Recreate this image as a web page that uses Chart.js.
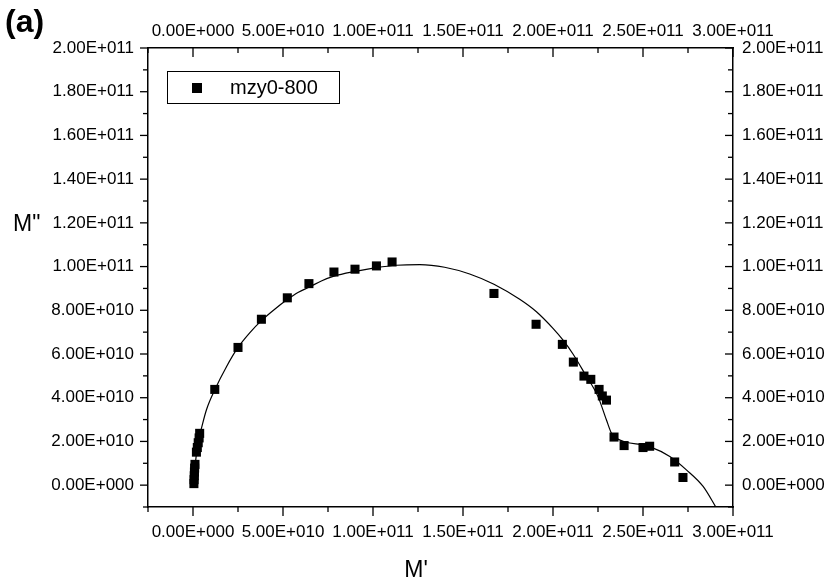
<!DOCTYPE html>
<html>
<head>
<meta charset="utf-8">
<script src="https://cdn.jsdelivr.net/npm/chart.js@4.4.1/dist/chart.umd.min.js"></script>
<style>
  html, body { margin: 0; padding: 0; background: #fff; }
  #wrap { position: relative; width: 829px; height: 588px; }
</style>
</head>
<body>
<div id="wrap"><canvas id="modulus"></canvas></div>
<script>
// --- DATA ---
// measured points (M', M'')
const mPrime = [
  5e8, 6e8, 7e8, 8e8, 9e8, 1.1e9,
  1.9e9, 2.4e9, 2.9e9, 3.4e9, 3.7e9,
  1.21e10, 2.5e10, 3.8e10, 5.24e10, 6.44e10, 7.83e10, 9.0e10, 1.019e11, 1.106e11,
  1.672e11, 1.906e11, 2.052e11, 2.113e11, 2.172e11, 2.21e11, 2.256e11, 2.274e11, 2.297e11,
  2.339e11, 2.395e11, 2.5e11, 2.537e11, 2.676e11, 2.722e11
];
const mDoublePrime = [
  7e8, 2.5e9, 4.3e9, 6.0e9, 7.8e9, 9.5e9,
  1.51e10, 1.72e10, 1.94e10, 2.16e10, 2.37e10,
  4.38e10, 6.30e10, 7.59e10, 8.57e10, 9.22e10, 9.75e10, 9.88e10, 1.003e11, 1.021e11,
  8.77e10, 7.36e10, 6.44e10, 5.63e10, 4.99e10, 4.84e10, 4.38e10, 4.08e10, 3.89e10,
  2.2e10, 1.81e10, 1.72e10, 1.78e10, 1.06e10, 3.5e9
];

// fitted curve
const fitPrime = [
  1e8, 9.4e8, 2.06e9, 3.44e9, 4.67e9, 7.44e9, 1.22e10, 1.86e10, 2.5e10, 3.15e10, 3.83e10,
  4.54e10, 5.24e10, 5.83e10, 6.48e10, 7.13e10, 7.83e10, 9.02e10, 1.019e11, 1.13e11,
  1.26e11, 1.398e11, 1.537e11, 1.672e11, 1.815e11, 1.908e11, 2.0e11, 2.056e11, 2.111e11,
  2.176e11, 2.25e11, 2.297e11, 2.325e11, 2.352e11, 2.537e11, 2.649e11, 2.741e11,
  2.834e11, 2.908e11
];
const fitDoublePrime = [
  0, 6.99e9, 1.52e10, 2.2e10, 2.6e10, 3.44e10, 4.38e10, 5.42e10, 6.3e10, 6.97e10, 7.55e10,
  8.05e10, 8.49e10, 8.81e10, 9.07e10, 9.34e10, 9.56e10, 9.78e10, 9.95e10, 1.006e11,
  1.009e11, 9.97e10, 9.66e10, 9.19e10, 8.5e10, 7.93e10, 7.17e10, 6.63e10, 6.0e10,
  5.11e10, 4.05e10, 2.98e10, 2.37e10, 2.15e10, 1.76e10, 1.31e10, 7.0e9,
  -6e8, -1.05e10
];

// axes
const xMajor = [0, 5e10, 1e11, 1.5e11, 2e11, 2.5e11, 3e11];
const xMinor = [-2.5e10, 2.5e10, 7.5e10, 1.25e11, 1.75e11, 2.25e11, 2.75e11];
const yMajor = [0, 2e10, 4e10, 6e10, 8e10, 1e11, 1.2e11, 1.4e11, 1.6e11, 1.8e11, 2e11];
const yMinor = [-1e10, 1e10, 3e10, 5e10, 7e10, 9e10, 1.1e11, 1.3e11, 1.5e11, 1.7e11, 1.9e11];

const seriesName = 'mzy0-800';
const FONT = '"Liberation Sans", Arial, sans-serif';

// 5.00E+010 style labels
function fmtE(v) {
  const [mant, exp] = v.toExponential(2).split('e');
  return mant + 'E' + exp[0] + exp.slice(1).padStart(3, '0');
}

// tick marks: left/bottom point out, top/right point in
const frameTicks = {
  id: 'frameTicks',
  afterDraw(chart) {
    const { ctx, chartArea: a, scales } = chart;
    ctx.save();
    ctx.strokeStyle = '#000';
    ctx.lineWidth = 1.3;
    const mark = (scale, values, len) => {
      values.forEach(v => {
        const p = scale.getPixelForValue(v);
        ctx.beginPath();
        if (scale.id === 'y') { ctx.moveTo(a.left, p); ctx.lineTo(a.left - len, p); }
        if (scale.id === 'y2') { ctx.moveTo(a.right, p); ctx.lineTo(a.right - len, p); }
        if (scale.id === 'x') { ctx.moveTo(p, a.bottom); ctx.lineTo(p, a.bottom + len); }
        if (scale.id === 'x2') { ctx.moveTo(p, a.top); ctx.lineTo(p, a.top + len); }
        ctx.stroke();
      });
    };
    ['x', 'x2'].forEach(id => { mark(scales[id], xMajor, 9); mark(scales[id], xMinor, 5); });
    ['y', 'y2'].forEach(id => { mark(scales[id], yMajor, 8); mark(scales[id], yMinor, 5); });
    ctx.restore();
  }
};

// panel letter, axis names and the boxed legend
const annotations = {
  id: 'annotations',
  afterDraw(chart) {
    const { ctx } = chart;
    ctx.save();
    ctx.fillStyle = '#000';
    ctx.textBaseline = 'middle';

    ctx.font = 'bold 32px ' + FONT;
    ctx.textAlign = 'left';
    ctx.fillText('(a)', 5, 23);

    ctx.font = '23px ' + FONT;
    ctx.fillText('M"', 13, 225);
    ctx.textAlign = 'center';
    ctx.fillText("M'", 416, 571);

    // legend
    ctx.strokeStyle = '#000';
    ctx.lineWidth = 1;
    ctx.strokeRect(167.5, 71.5, 172, 32);
    ctx.fillRect(192, 83, 10, 10);
    ctx.font = '20px ' + FONT;
    ctx.textAlign = 'left';
    ctx.fillText(chart.data.datasets[0].label, 230, 88);
    ctx.restore();
  }
};

const tickFont = { family: FONT, size: 17 };

function axis(position, min, max, major, size, pad) {
  return {
    type: 'linear',
    position,
    min, max,
    grid: { display: false, drawTicks: false, tickLength: 0 },
    border: { display: true, color: '#000', width: 1.5 },
    ticks: { color: '#000', font: tickFont, padding: pad, maxRotation: 0, autoSkip: false, callback: v => fmtE(v) },
    afterBuildTicks: s => { s.ticks = major.map(v => ({ value: v })); },
    afterFit: s => {
      if (s.isHorizontal()) s.height = size; else s.width = size;
    }
  };
}

new Chart(document.getElementById('modulus'), {
  type: 'scatter',
  data: {
    datasets: [
      {
        label: seriesName,
        data: mPrime.map((x, i) => ({ x, y: mDoublePrime[i] })),
        pointStyle: 'rect',
        pointRadius: 6.4,
        pointBorderWidth: 0,
        backgroundColor: '#000',
        borderColor: '#000'
      },
      {
        label: 'fit',
        data: fitPrime.map((x, i) => ({ x, y: fitDoublePrime[i] })),
        showLine: true,
        pointRadius: 0,
        borderColor: '#000',
        borderWidth: 1.2,
        cubicInterpolationMode: 'monotone'
      }
    ]
  },
  options: {
    responsive: true,
    maintainAspectRatio: false,
    animation: false,
    layout: { padding: 0 },
    plugins: { legend: { display: false }, tooltip: { enabled: false } },
    scales: {
      x: axis('bottom', -2.5e10, 3e11, xMajor, 81, 15),
      x2: axis('top', -2.5e10, 3e11, xMajor, 48, 6),
      y: axis('left', -1e10, 2e11, yMajor, 148, 14),
      y2: axis('right', -1e10, 2e11, yMajor, 96, 9)
    }
  },
  plugins: [frameTicks, annotations]
});
</script>
</body>
</html>
